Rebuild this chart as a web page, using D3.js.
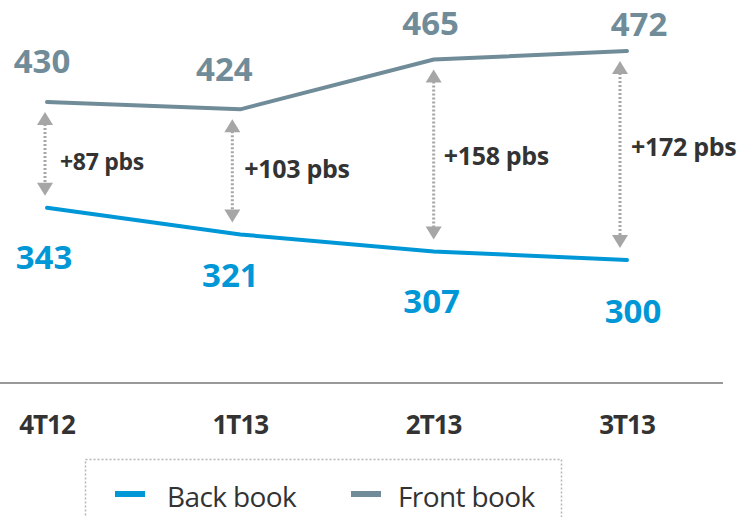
<!DOCTYPE html>
<html>
<head>
<meta charset="utf-8">
<script src="https://cdn.jsdelivr.net/npm/d3@7"></script>
<style>
  html, body { margin: 0; padding: 0; background: #fff; }
  svg { display: block; font-family: "Open Sans", sans-serif; }
</style>
</head>
<body>
<div id="chart"></div>
<script>
const width = 743;
const height = 517;

// data
const quarters = ["4T12", "1T13", "2T13", "3T13"];
const backBook = [343, 321, 307, 300];
const frontBook = [430, 424, 465, 472];
const spreads = ["+87 pbs", "+103 pbs", "+158 pbs", "+172 pbs"];

const backColor = "#0097d7";
const frontColor = "#718c99";
const textColor = "#333333";
const arrowColor = "#a6a6a6";

// small hand nudges for the labels, as in the original slide
const frontNudge = [[-5, -41], [-16, -40], [-3, -36], [12, -27]];
const backNudge = [[-3, 49], [-10, 41], [-2, 50], [6, 51]];
const arrowShift = [-2, -8, 0, -7];
const spreadDx = [15, 12, 10, 11];
const spreadDy = [7, -3, 1, -8];
const spreadSize = [23, 25, 25, 25];

const svg = d3.select("#chart")
  .append("svg")
  .attr("width", width)
  .attr("height", height);

const x = d3.scalePoint()
  .domain(quarters)
  .range([47, 627]);

const y = d3.scaleLinear()
  .domain([300, 472])
  .range([260, 51]);

const line = d3.line()
  .x((d, i) => x(quarters[i]))
  .y(d => y(d));

// axis baseline
svg.append("line")
  .attr("x1", 0)
  .attr("x2", 723)
  .attr("y1", 383)
  .attr("y2", 383)
  .attr("stroke", "#999")
  .attr("stroke-width", 2);

// category labels
svg.selectAll(".cat")
  .data(quarters)
  .enter()
  .append("text")
  .attr("class", "cat")
  .attr("x", d => x(d))
  .attr("y", 434)
  .attr("text-anchor", "middle")
  .attr("font-size", "26px")
  .attr("font-weight", "bold")
  .attr("fill", textColor)
  .attr("letter-spacing", "-1")
  .text(d => d);

// lines
svg.append("path")
  .datum(frontBook)
  .attr("d", line)
  .attr("fill", "none")
  .attr("stroke", frontColor)
  .attr("stroke-width", 4)
  .attr("stroke-linecap", "round");

svg.append("path")
  .datum(backBook)
  .attr("d", line)
  .attr("fill", "none")
  .attr("stroke", backColor)
  .attr("stroke-width", 4)
  .attr("stroke-linecap", "round");

// spread arrows
quarters.forEach((q, i) => {
  const ax = x(q) + arrowShift[i];
  const top = y(frontBook[i]) + 10;
  const bottom = y(backBook[i]) - 12;
  const g = svg.append("g");

  g.append("line")
    .attr("x1", ax).attr("x2", ax)
    .attr("y1", top + 12).attr("y2", bottom - 12)
    .attr("stroke", arrowColor)
    .attr("stroke-width", 3)
    .attr("stroke-dasharray", "2,2");

  g.append("path")
    .attr("d", `M${ax},${top} L${ax - 8},${top + 13} L${ax + 8},${top + 13} Z`)
    .attr("fill", arrowColor);

  g.append("path")
    .attr("d", `M${ax},${bottom} L${ax - 8},${bottom - 13} L${ax + 8},${bottom - 13} Z`)
    .attr("fill", arrowColor);

  svg.append("text")
    .attr("x", ax + spreadDx[i])
    .attr("y", (y(frontBook[i]) + y(backBook[i])) / 2 + spreadDy[i])
    .attr("dy", "0.35em")
    .attr("font-size", spreadSize[i] + "px")
    .attr("font-weight", "bold")
    .attr("fill", textColor)
    .attr("letter-spacing", "-0.3")
    .text(spreads[i]);
});

// value labels
svg.selectAll(".front-val")
  .data(frontBook)
  .enter()
  .append("text")
  .attr("class", "front-val")
  .attr("x", (d, i) => x(quarters[i]) + frontNudge[i][0])
  .attr("y", (d, i) => y(d) + frontNudge[i][1])
  .attr("dy", "0.36em")
  .attr("text-anchor", "middle")
  .attr("font-size", "33px")
  .attr("font-weight", "bold")
  .attr("fill", frontColor)
  .text(d => d);

svg.selectAll(".back-val")
  .data(backBook)
  .enter()
  .append("text")
  .attr("class", "back-val")
  .attr("x", (d, i) => x(quarters[i]) + backNudge[i][0])
  .attr("y", (d, i) => y(d) + backNudge[i][1])
  .attr("dy", "0.36em")
  .attr("text-anchor", "middle")
  .attr("font-size", "33px")
  .attr("font-weight", "bold")
  .attr("fill", backColor)
  .text(d => d);

// legend
const legend = svg.append("g");

legend.append("rect")
  .attr("x", 85.5)
  .attr("y", 459.5)
  .attr("width", 476)
  .attr("height", 80)
  .attr("fill", "none")
  .attr("stroke", "#b5b5b5")
  .attr("stroke-width", 1.5)
  .attr("stroke-dasharray", "2,2");

const legendItems = [
  { name: "Back book", color: backColor, x: 115, tx: 167 },
  { name: "Front book", color: frontColor, x: 351, tx: 398 }
];

legendItems.forEach(item => {
  legend.append("rect")
    .attr("x", item.x)
    .attr("y", 491)
    .attr("width", 30)
    .attr("height", 6)
    .attr("fill", item.color);

  legend.append("text")
    .attr("x", item.tx)
    .attr("y", 507)
    .attr("font-size", "28px")
    .attr("fill", textColor)
    .attr("letter-spacing", "-0.6")
    .text(item.name);
});
</script>
</body>
</html>
